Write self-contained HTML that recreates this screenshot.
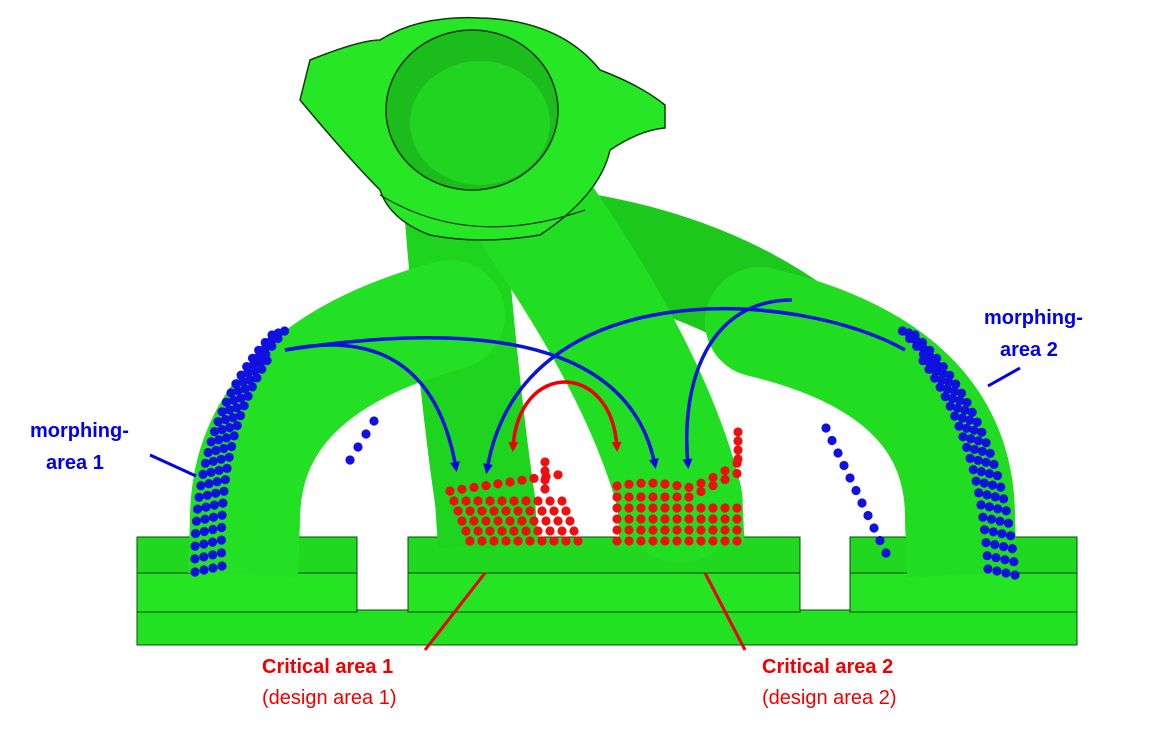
<!DOCTYPE html>
<html><head><meta charset="utf-8"><style>
html,body{margin:0;padding:0;background:#fff;}
svg{display:block;font-family:"Liberation Sans",Arial,sans-serif;}
</style></head><body>
<svg id="s" width="1149" height="744" viewBox="0 0 1149 744" xmlns="http://www.w3.org/2000/svg">
<defs>
<marker id="ab" markerWidth="10" markerHeight="10" refX="6" refY="5" orient="auto" markerUnits="userSpaceOnUse"><path d="M0,0 L10,5 L0,10 Z" fill="#0000ee"/></marker>
<marker id="ar" markerWidth="10" markerHeight="10" refX="6" refY="5" orient="auto" markerUnits="userSpaceOnUse"><path d="M0,0 L10,5 L0,10 Z" fill="#ee0000"/></marker>
<marker id="ars" markerWidth="10" markerHeight="10" refX="4" refY="5" orient="auto" markerUnits="userSpaceOnUse"><path d="M10,0 L0,5 L10,10 Z" fill="#ee0000"/></marker>
</defs>
<!-- base -->
<rect x="137" y="610" width="940" height="35" fill="#22e022" stroke="#0a4a0a" stroke-width="1"/>
<rect x="137" y="572" width="220" height="40" fill="#24e424" stroke="#0a4a0a" stroke-width="1"/>
<rect x="137" y="537" width="220" height="36" fill="#20d820" stroke="#0a4a0a" stroke-width="1"/>
<rect x="408" y="572" width="392" height="40" fill="#24e424" stroke="#0a4a0a" stroke-width="1"/>
<rect x="408" y="537" width="392" height="36" fill="#20d820" stroke="#0a4a0a" stroke-width="1"/>
<rect x="850" y="572" width="227" height="40" fill="#24e424" stroke="#0a4a0a" stroke-width="1"/>
<rect x="850" y="537" width="227" height="36" fill="#20d820" stroke="#0a4a0a" stroke-width="1"/>
<!-- pipes -->
<g stroke-linecap="round" fill="none">
<path d="M520,235 Q690,250 800,330" stroke="#1cc81c" stroke-width="100"/>
<path d="M455,220 Q470,400 485,500" stroke="#1ed41e" stroke-width="100"/>
<path d="M540,220 Q650,380 680,500" stroke="#22de22" stroke-width="125"/>
<path d="M245,520 Q245,370 450,315" stroke="#24e024" stroke-width="110"/>
<path d="M960,520 Q962,370 760,322" stroke="#22dc22" stroke-width="110"/>
</g>
<g stroke-linecap="butt" fill="none">
<path d="M485,500 L488,545" stroke="#1ed41e" stroke-width="100"/>
<path d="M680,500 L682,545" stroke="#22de22" stroke-width="125"/>
<path d="M245,520 L243,575" stroke="#24e024" stroke-width="110"/>
<path d="M960,520 L962,575" stroke="#22dc22" stroke-width="110"/>
</g>
<!-- top flange -->
<path d="M310,60 Q360,40 380,40 Q420,15 480,18 Q560,20 600,70 Q640,85 665,105 L665,128 Q640,130 610,150 Q600,195 540,235 Q480,245 430,235 Q390,220 380,190 Q350,160 300,100 Z" fill="#26e626" stroke="#0a3a0a" stroke-width="1.5"/>
<ellipse cx="472" cy="110" rx="86" ry="80" fill="#1cbc1c" stroke="#0a3a0a" stroke-width="1.5"/>
<ellipse cx="480" cy="123" rx="70" ry="62" fill="#22d422"/>
<path d="M380,195 Q470,250 585,210" stroke="#0a3a0a" fill="none" stroke-width="1.2"/>
<g id="dots"></g>
<!-- arrows -->
<g fill="none" stroke="#0a14d8" stroke-width="3.5">
<path d="M285,350 Q430,320 456,468" marker-end="url(#ab)"/>
<path d="M285,350 C480,320 630,340 655,465" marker-end="url(#ab)"/>
<path d="M905,350 C800,290 520,270 487,470" marker-end="url(#ab)"/>
<path d="M792,300 C710,300 680,380 688,465" marker-end="url(#ab)"/>
</g>
<path d="M513,448 C518,360 612,360 617,448" fill="none" stroke="#ee0000" stroke-width="3.5" marker-start="url(#ars)" marker-end="url(#ar)"/>
<!-- leaders -->
<line x1="988" y1="386" x2="1020" y2="368" stroke="#0000ee" stroke-width="3"/>
<line x1="150" y1="455" x2="196" y2="476" stroke="#0000ee" stroke-width="3"/>
<line x1="425" y1="650" x2="485" y2="573" stroke="#ee0000" stroke-width="3"/>
<line x1="745" y1="650" x2="705" y2="573" stroke="#ee0000" stroke-width="3"/>
<g font-weight="bold" font-size="20" fill="#0000ee">
<text x="984" y="324">morphing-</text><text x="1000" y="356">area 2</text>
<text x="30" y="437">morphing-</text><text x="46" y="469">area 1</text>
</g>
<g fill="#ee0000" font-size="20">
<text x="262" y="673" font-weight="bold">Critical area 1</text><text x="262" y="704">(design area 1)</text>
<text x="762" y="673" font-weight="bold">Critical area 2</text><text x="762" y="704">(design area 2)</text>
</g>
</svg>
<script>
var g=document.getElementById('dots'),h='';
function c(x,y,col){h+='<circle cx="'+x.toFixed(1)+'" cy="'+y.toFixed(1)+'" r="4.6" fill="'+col+'"/>';}
function q(p0,p1,p2,t){var u=1-t;return [u*u*p0[0]+2*u*t*p1[0]+t*t*p2[0],u*u*p0[1]+2*u*t*p1[1]+t*t*p2[1]];}
for(var k=0;k<4;k++)for(var i=0;i<24;i++){var t=i/23;if(k==3&&t>0.85)continue;var p=q([195,572],[192,420],[272,335],t);c(p[0]+k*9*(1-t*0.3),p[1]-k*2,'#1010e0');}
for(var i=0;i<4;i++)c(350+i*8,460-i*13,'#1010e0');
for(var k=0;k<4;k++)for(var i=0;i<24;i++){var t=i/23;if(k==3&&t>0.85)continue;var p=q([1015,575],[1003,420],[915,335],t);c(p[0]-k*9*(1-t*0.3),p[1]-k*2,'#1010e0');}
for(var i=0;i<11;i++)c(826+i*6,428+i*12.5,'#1010e0');
for(var r=0;r<6;r++){var y=541-r*10;var x0=470-r*4,x1=578-r*4;for(var x=x0;x<=x1;x+=12){var yy=y-(r>=5?(x-x0)*0.15:0);c(x,yy,'#ee1010');}}
for(var i=0;i<4;i++)c(545,462+i*9,'#ee1010');
for(var r=0;r<6;r++){var y=541-r*11;for(var x=617;x<=745;x+=12){var yy=y-(r>=4?Math.max(0,x-690)*0.5:0)-(r==5?Math.sin((x-617)/20)*3:0);c(x,yy,'#ee1010');}}
for(var i=0;i<4;i++)c(738,432+i*9,'#ee1010');
g.innerHTML=h;
</script>
</body></html>
